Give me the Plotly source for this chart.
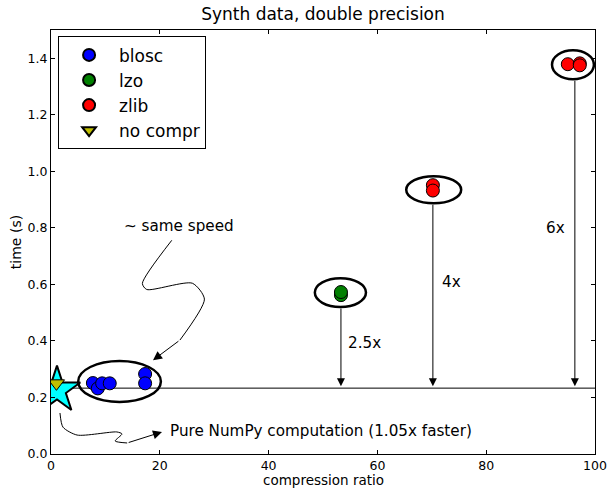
import plotly.graph_objects as go

# ---- data ----
blosc_x = [7.7, 8.6, 9.4, 10.8, 17.3, 17.3]
blosc_y = [0.251, 0.232, 0.250, 0.250, 0.283, 0.250]
lzo_x = [53.3, 53.3]
lzo_y = [0.562, 0.573]
zlib_x = [70.2, 70.2, 95.0, 97.2, 97.2]
zlib_y = [0.951, 0.932, 1.379, 1.382, 1.375]
nocompr_x = [1.0]
nocompr_y = [0.25]
numpy_x = [1.1]
numpy_y = [0.226]
numpy_time = 0.233

# ellipses (x0, x1, y0, y1)
ellipses = [
    (5.0, 20.2, 0.184, 0.329),
    (48.5, 57.9, 0.520, 0.622),
    (65.3, 75.4, 0.887, 0.983),
    (92.1, 99.8, 1.326, 1.428),
]
# speedup arrows: x, start y, label, label x, label y
speed_x = [53.3, 70.2, 96.3]
speed_start = [0.52, 0.887, 1.326]
speed_labels = ["2.5x", "4x", "6x"]
speed_lx = [54.2, 71.5, 90.6]
speed_ly = [0.392, 0.608, 0.799]

# squiggle paths
same_x = [22.2, 16.8, 17.6, 26.0, 28.2, 23.7, 18.75]
same_y = [0.756, 0.603, 0.582, 0.604, 0.548, 0.403, 0.332]
pure_x = [1.65, 2.2, 4.8, 12.1, 13.05, 11.8, 14.0, 20.4]
pure_y = [0.145, 0.095, 0.067, 0.078, 0.071, 0.046, 0.039, 0.078]

xticks = [0, 20, 40, 60, 80, 100]
yticks = [0.0, 0.2, 0.4, 0.6, 0.8, 1.0, 1.2, 1.4]

FONT = "DejaVu Sans, Verdana, sans-serif"
TXT = 15.2
PLOT_H = 489 - 30 - 35

fig = go.Figure()

# horizontal numpy line
fig.add_trace(go.Scatter(x=[0, 100], y=[numpy_time, numpy_time], mode="lines",
                         line=dict(color="black", width=1), showlegend=False,
                         hoverinfo="skip"))

# squiggles
fig.add_trace(go.Scatter(x=same_x[:-1], y=same_y[:-1], mode="lines",
                         line=dict(color="black", width=1, shape="spline", smoothing=0.7),
                         showlegend=False, hoverinfo="skip"))
fig.add_trace(go.Scatter(x=pure_x[:-1], y=pure_y[:-1], mode="lines",
                         line=dict(color="black", width=1, shape="spline", smoothing=0.7),
                         showlegend=False, hoverinfo="skip"))

mk = dict(size=13, line=dict(color="black", width=1))
fig.add_trace(go.Scatter(x=blosc_x, y=blosc_y, mode="markers", name="blosc",
                         marker=dict(color="#0000ff", symbol="circle", **mk)))
fig.add_trace(go.Scatter(x=lzo_x, y=lzo_y, mode="markers", name="lzo",
                         marker=dict(color="#008000", symbol="circle", **mk)))
fig.add_trace(go.Scatter(x=zlib_x, y=zlib_y, mode="markers", name="zlib",
                         marker=dict(color="#ff0000", symbol="circle", **mk)))
fig.add_trace(go.Scatter(x=numpy_x, y=numpy_y, mode="markers", showlegend=False,
                         marker=dict(color="#00ffff", symbol="star", size=35,
                                     line=dict(color="black", width=2))))
fig.add_trace(go.Scatter(x=nocompr_x, y=nocompr_y, mode="markers", name="no compr",
                         marker=dict(color="#bfbf00", symbol="triangle-down", size=14,
                                     line=dict(color="black", width=1))))

for (x0, x1, y0, y1) in ellipses:
    fig.add_shape(type="circle", xref="x", yref="y", x0=x0, x1=x1, y0=y0, y1=y1,
                  line=dict(color="black", width=2.5), layer="above")

ann = []
for x, ys, lab, lx, ly in zip(speed_x, speed_start, speed_labels, speed_lx, speed_ly):
    ann.append(dict(x=x, y=numpy_time + 0.007, ax=x, ay=ys, xref="x", yref="y",
                    axref="x", ayref="y", showarrow=True, arrowhead=2, arrowsize=1.6,
                    arrowwidth=1, arrowcolor="black", text=""))
    ann.append(dict(x=lx, y=ly, xref="x", yref="y", text=lab, showarrow=False,
                    xanchor="left", yanchor="middle", font=dict(size=TXT, color="black")))

ann.append(dict(x=same_x[-1], y=same_y[-1], ax=same_x[-2], ay=same_y[-2], xref="x", yref="y",
                axref="x", ayref="y", showarrow=True, arrowhead=2, arrowsize=1.8,
                arrowwidth=1, arrowcolor="black", text=""))
ann.append(dict(x=pure_x[-1], y=pure_y[-1], ax=pure_x[-2], ay=pure_y[-2], xref="x", yref="y",
                axref="x", ayref="y", showarrow=True, arrowhead=2, arrowsize=1.8,
                arrowwidth=1, arrowcolor="black", text=""))
ann.append(dict(x=13.0, y=0.806, xref="x", yref="y", text="~ same speed", showarrow=False,
                xanchor="left", yanchor="middle", font=dict(size=TXT, color="black")))
ann.append(dict(x=21.5, y=0.081, xref="x", yref="y", text="Pure NumPy computation (1.05x faster)",
                showarrow=False, xanchor="left", yanchor="middle",
                font=dict(size=TXT, color="black")))
# x-axis title as annotation
ann.append(dict(x=0.5, y=-35 / PLOT_H, xref="paper", yref="paper", text="compression ratio",
                showarrow=False, xanchor="center", yanchor="bottom",
                font=dict(size=13.5, color="black"), borderpad=0))

axis_common = dict(showgrid=False, zeroline=False, showline=True, linecolor="black",
                   linewidth=1, mirror="ticks", ticks="inside", ticklen=4,
                   tickcolor="black", tickfont=dict(size=12.5, color="black"),
                   automargin=False)

fig.update_layout(
    width=612, height=489,
    margin=dict(l=51, r=17, t=30, b=35),
    paper_bgcolor="white", plot_bgcolor="white",
    font=dict(family=FONT, color="black"),
    title=dict(text="Synth data, double precision", x=0.5, xref="paper",
               y=1 - 14 / 489, yanchor="middle", font=dict(size=17)),
    xaxis=dict(range=[0, 100], tickvals=xticks, ticktext=[str(v) for v in xticks],
               **axis_common),
    yaxis=dict(range=[0, 1.5], tickvals=yticks, ticktext=[f"{v:.1f}" for v in yticks],
               title=dict(text="time (s)", font=dict(size=14), standoff=2),
               **axis_common),
    legend=dict(x=0.013, y=0.985, xanchor="left", yanchor="top",
                bordercolor="black", borderwidth=1, bgcolor="white",
                font=dict(size=17), tracegroupgap=4, itemsizing="constant",
                itemwidth=50),
    annotations=ann,
    showlegend=True,
)

fig.write_html("out.html")
